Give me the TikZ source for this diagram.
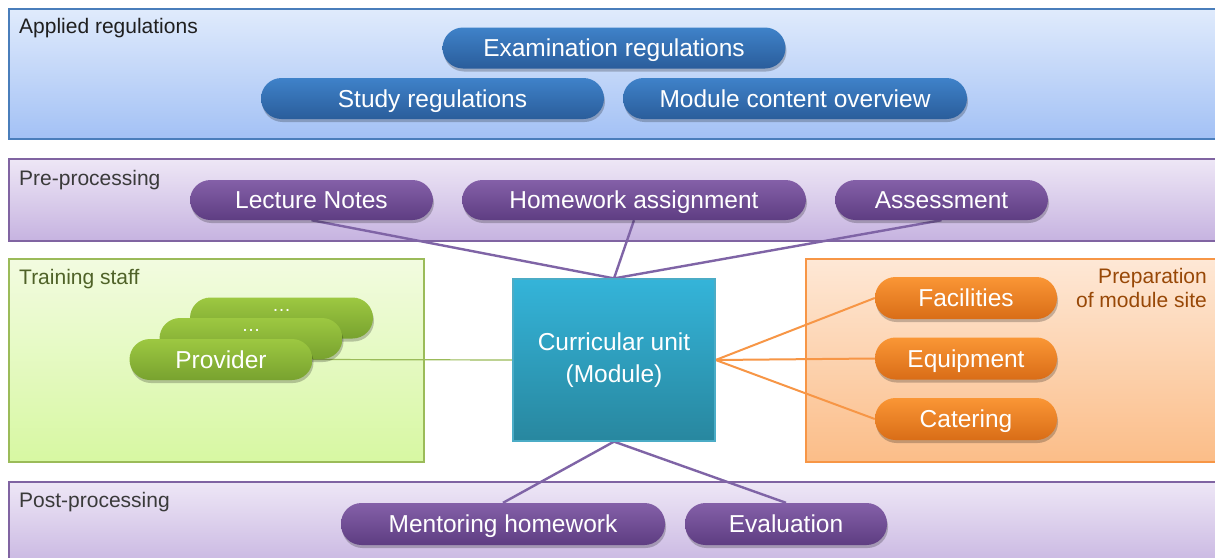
\documentclass[tikz,border=0pt]{standalone}
\usepackage{fontspec}
\setmainfont{Liberation Sans}
\usetikzlibrary{shadows,calc}
\pgfdeclarelayer{bg}
\pgfdeclarelayer{conn}
\pgfsetlayers{bg,conn,main}
\definecolor{apTop}{HTML}{E0EBFC}\definecolor{apBot}{HTML}{A3C1F5}\definecolor{apBd}{HTML}{4A7EBB}
\definecolor{prTop}{HTML}{EEE7F6}\definecolor{prBot}{HTML}{C6B3E0}\definecolor{prBd}{HTML}{8064A2}
\definecolor{grTop}{HTML}{F2FBE0}\definecolor{grBot}{HTML}{D7F8A2}\definecolor{grBd}{HTML}{9BBB59}
\definecolor{orTop}{HTML}{FEE8D6}\definecolor{orBot}{HTML}{FBBD88}\definecolor{orBd}{HTML}{F79646}
\definecolor{bpTop}{HTML}{3F82C9}\definecolor{bpBot}{HTML}{2A5D9B}
\definecolor{ppTop}{HTML}{8460A8}\definecolor{ppBot}{HTML}{5E3D82}
\definecolor{gpTop}{HTML}{9DC841}\definecolor{gpBot}{HTML}{78A22F}
\definecolor{opTop}{HTML}{FA9635}\definecolor{opBot}{HTML}{D96D17}
\definecolor{cuTop}{HTML}{34B4D9}\definecolor{cuBot}{HTML}{28879F}\definecolor{cuBd}{HTML}{4BACC6}
\definecolor{lnPurple}{HTML}{7F64A6}
\definecolor{prepText}{HTML}{984807}
\definecolor{trainText}{HTML}{4F6228}
\definecolor{darkText}{HTML}{3A3A3A}
\begin{document}
\begin{tikzpicture}[x=1pt,y=-1pt,
  pilltext/.style={font=\fontsize{24.5}{29}\selectfont, text=white},
  pill/.style={pilltext, rectangle, rounded corners=20.5pt, minimum height=41pt, inner sep=0pt,
     text height=17.5pt, text depth=0pt,
     drop shadow={shadow xshift=1pt, shadow yshift=-3pt, opacity=0.22, fill=black}},
  bluepill/.style={pill, top color=bpTop, bottom color=bpBot},
  purplepill/.style={pill, top color=ppTop, bottom color=ppBot},
  greenpill/.style={pill, top color=gpTop, bottom color=gpBot},
  orangepill/.style={pill, top color=opTop, bottom color=opBot},
  region/.style={rectangle, inner sep=0pt, line width=1.6pt},
  grouplabel/.style={font=\fontsize{21}{24}\selectfont, inner sep=0pt},
  purpleline/.style={draw=lnPurple, line width=2.4pt},
  orangeline/.style={draw=orBd, line width=2pt},
  greenline/.style={draw=grBd, line width=1.2pt}
]
\useasboundingbox (0,0) rectangle (1215,557);
\clip (0,0) rectangle (1215,557);

\begin{pgfonlayer}{bg}
\fill[white] (0,0) rectangle (1215,557);
\node[region, draw=apBd, top color=apTop, bottom color=apBot, minimum width=1212pt, minimum height=130pt, anchor=north west] (applied) at (8,8) {};
\node[region, draw=prBd, top color=prTop, bottom color=prBot, minimum width=1212pt, minimum height=82pt, anchor=north west] (pre) at (8,158) {};
\node[region, draw=grBd, top color=grTop, bottom color=grBot, minimum width=415pt, minimum height=203pt, anchor=north west] (train) at (8,258) {};
\node[region, draw=orBd, top color=orTop, bottom color=orBot, minimum width=415pt, minimum height=203pt, anchor=north west] (prep) at (805,258) {};
\node[region, draw=prBd, top color=prTop, bottom color=prBot, minimum width=1212pt, minimum height=90pt, anchor=north west] (post) at (8,481) {};
\end{pgfonlayer}

% group labels
\node[grouplabel, text=black!88, anchor=west] (lapplied) at (19,28.5) {Applied regulations};
\node[grouplabel, text=darkText, anchor=west] (lpre) at (19,180.5) {Pre-processing};
\node[grouplabel, text=trainText, anchor=west] (ltrain) at (19,279.5) {Training staff};
\node[grouplabel, text=darkText, anchor=west] (lpost) at (19,502.5) {Post-processing};
\node[grouplabel, text=prepText, anchor=north east, align=right] (lprep) at (1207,268.5) {Preparation\\of module site};

% central unit
\node[rectangle, draw=cuBd, line width=1.2pt, top color=cuTop, bottom color=cuBot,
  minimum width=202pt, minimum height=162pt, inner sep=0pt, align=center, text=white,
  font=\fontsize{24.5}{32}\selectfont] (cur) at (614,360) {Curricular unit\\(Module)};

% applied regulations pills
\node[bluepill, minimum width=343pt] (exam) at (614,48) {Examination regulations};
\node[bluepill, minimum width=343pt] (study) at (432.5,98.5) {Study regulations};
\node[bluepill, minimum width=344pt] (mco) at (795,98.5) {Module content overview};

% pre-processing pills
\node[purplepill, minimum width=243pt, minimum height=40pt] (ln) at (311.5,200) {Lecture Notes};
\node[purplepill, minimum width=344pt, minimum height=40pt] (hw) at (634,200) {Homework assignment};
\node[purplepill, minimum width=213pt, minimum height=40pt] (ass) at (941.5,200) {Assessment};

% training staff pills
\node[greenpill, minimum width=183pt] (g3) at (281.5,318) {};
\node[pilltext, font=\fontsize{19}{22}\selectfont, inner sep=0pt] (g3t) at (281.5,310) {…};
\node[greenpill, minimum width=183pt] (g2) at (251,338.5) {};
\node[pilltext, font=\fontsize{19}{22}\selectfont, inner sep=0pt] (g2t) at (251,330) {…};
\node[greenpill, minimum width=183pt] (prov) at (221,359.5) {Provider};

% preparation pills
\node[orangepill, minimum width=182pt, minimum height=42pt] (fac) at (966,298) {Facilities};
\node[orangepill, minimum width=182pt, minimum height=42pt] (equ) at (966,358.5) {Equipment};
\node[orangepill, minimum width=182pt, minimum height=42pt] (cat) at (966,419) {Catering};

% post-processing pills
\node[purplepill, minimum width=324pt, minimum height=42pt] (ment) at (503,524) {Mentoring homework};
\node[purplepill, minimum width=202pt, minimum height=42pt] (eval) at (786,524) {Evaluation};

% connectors
\begin{pgfonlayer}{conn}
\draw[purpleline] (cur.north) -- (ln.south);
\draw[purpleline] (cur.north) -- (hw.south);
\draw[purpleline] (cur.north) -- (ass.south);
\draw[purpleline] (cur.south) -- (ment.north);
\draw[purpleline] (cur.south) -- (eval.north);
\draw[orangeline] (cur.east) -- (fac.west);
\draw[orangeline] (cur.east) -- (equ.west);
\draw[orangeline] (cur.east) -- (cat.west);
\draw[greenline] (prov.east) -- (cur.west);
\end{pgfonlayer}
\end{tikzpicture}
\end{document}
